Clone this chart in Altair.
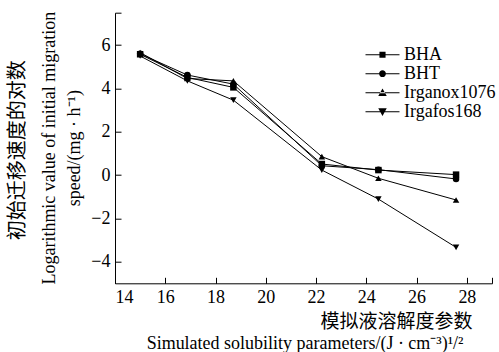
import altair as alt
import pandas as pd

# ---- data ----
solubility = [15.0, 16.88, 18.71, 22.23, 24.48, 27.57]
series_names = ["BHA", "BHT", "Irganox1076", "Irgafos168"]
bha = [5.58, 4.51, 4.05, 0.51, 0.23, 0.02]
bht = [5.60, 4.62, 4.20, 0.43, 0.25, -0.18]
irganox1076 = [5.66, 4.46, 4.35, 0.85, -0.15, -1.15]
irgafos168 = [5.50, 4.35, 3.46, 0.23, -1.11, -3.34]
x_ticks = [14, 16, 18, 20, 22, 24, 26, 28]
y_ticks = [-4, -2, 0, 2, 4, 6]

rows = []
for name, vals in zip(series_names, [bha, bht, irganox1076, irgafos168]):
    for xv, yv in zip(solubility, vals):
        rows.append({"s": xv, "v": yv, "series": name})
df = pd.DataFrame(rows)

W, H = 377, 270.6
serif = "Liberation Serif"
cjk = "Noto Sans CJK SC"
xscale = alt.Scale(domain=[14, 29], nice=False, zero=False)
yscale = alt.Scale(domain=[-5, 7.5], nice=False, zero=False)

base = alt.Chart(df)

lines = base.mark_line(color="black", strokeWidth=1).encode(
    x=alt.X("s:Q", scale=xscale, axis=alt.Axis(
        orient="bottom", values=x_ticks, ticks=False, domainColor="black", domainWidth=1,
        labelFont=serif, labelFontSize=18, labelColor="black", labelPadding=5, grid=False,
        title="模拟液溶解度参数", titleFont=cjk, titleFontSize=19, titleFontWeight="normal",
        titleColor="black", titleX=357, titleY=38, titleAlign="right", titleBaseline="middle")),
    y=alt.Y("v:Q", scale=yscale, axis=alt.Axis(
        orient="left", values=y_ticks, ticks=False, domainColor="black", domainWidth=1,
        labelFont=serif, labelFontSize=18, labelColor="black", labelPadding=5, grid=False,
        title="初始迁移速度的对数", titleFont=cjk, titleFontSize=20, titleFontWeight="normal",
        titleColor="black", titleX=-98, titleY=137, titleAngle=270, titleAlign="center",
        titleBaseline="middle")),
    detail="series:N",
)

points = base.mark_point(filled=True, color="black", opacity=1).encode(
    x=alt.X("s:Q", scale=xscale, axis=alt.Axis(
        orient="top", offset=-H, values=x_ticks + [29], labels=False, domain=False,
        ticks=True, tickSize=6, tickColor="black", grid=False,
        title="Simulated solubility parameters/(J · cm⁻³)¹/²", titleFont=serif,
        titleFontSize=18, titleFontWeight="normal", titleColor="black",
        titleX=348, titleY=65, titleAlign="right", titleBaseline="alphabetic")),
    y=alt.Y("v:Q", scale=yscale, axis=alt.Axis(
        orient="right", offset=-W, values=y_ticks + [7.5], labels=False, domain=False,
        ticks=True, tickSize=6, tickColor="black", grid=False,
        title=["Logarithmic value of initial migration", "speed/(mg · h⁻¹)"],
        titleFont=serif, titleFontSize=18, titleFontWeight="normal", titleColor="black",
        titleX=-66, titleY=135, titleAngle=270, titleAlign="center",
        titleBaseline="middle", titleLineHeight=26)),
    shape=alt.Shape("series:N", scale=alt.Scale(
        domain=series_names, range=["square", "circle", "triangle-up", "triangle-down"]),
        legend=None),
    size=alt.Size("series:N", scale=alt.Scale(domain=series_names, range=[42, 42, 55, 55]),
                  legend=None),
)

# legend glyphs: a thin bar (the line) plus the marker, in symbol units
legend_paths = [
    "M-2,-0.06H2V0.06H-2Z M-0.36,-0.36H0.36V0.36H-0.36Z",
    "M-2,-0.06H2V0.06H-2Z M-0.4,0A0.4,0.4 0 1,1 0.4,0A0.4,0.4 0 1,1 -0.4,0Z",
    "M-2,-0.06H2V0.06H-2Z M-0.5,0.4L0.5,0.4L0,-0.5Z",
    "M-2,-0.06H2V0.06H-2Z M-0.5,-0.4L0.5,-0.4L0,0.5Z",
]

legend_layer = base.transform_filter("false").mark_point(
    filled=True, color="black", strokeWidth=0, size=289, opacity=1
).encode(
    shape=alt.Shape("series:N", scale=alt.Scale(domain=series_names, range=legend_paths),
                    legend=alt.Legend(orient="none", legendX=258.5, legendY=33, title=None,
                                      labelFont=serif, labelFontSize=18, labelColor="black",
                                      padding=0, rowPadding=1, labelOffset=12.5,
                                      symbolSize=289, symbolStrokeWidth=0,
                                      symbolFillColor="black")),
)

chart = alt.layer(lines, points, legend_layer).resolve_scale(
    x="independent", y="independent", shape="independent", size="independent"
).resolve_legend(shape="independent").properties(
    width=W, height=H, autosize="none",
    padding={"left": 115, "top": 12.7, "right": 7, "bottom": 69},
).configure_view(stroke=None)

chart.save("out.html", embed_options={"renderer": "svg", "actions": False})
